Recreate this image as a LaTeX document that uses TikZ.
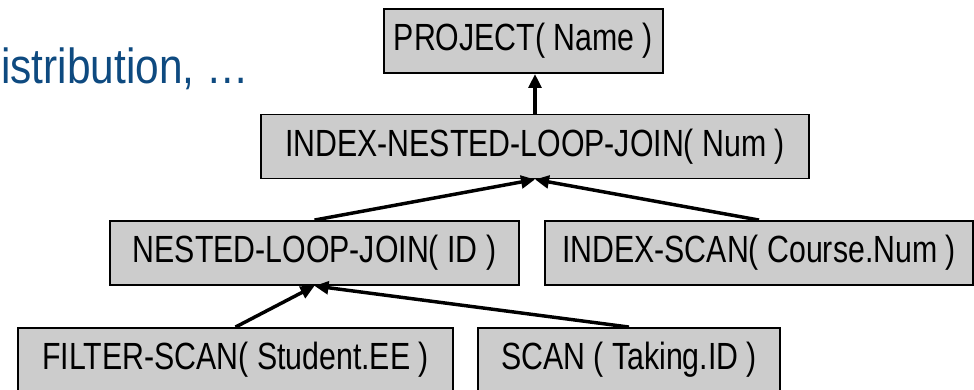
\documentclass[tikz,border=0pt]{standalone}
\usepackage{fontspec}
\setmainfont{Liberation Sans}[FakeStretch=0.86]
\newfontfamily\boxfont{Liberation Sans}[FakeStretch=0.80]
\usetikzlibrary{arrows.meta}
\definecolor{boxgray}{RGB}{204,204,204}
\definecolor{titleblue}{RGB}{14,74,128}
\tikzset{
  opbox/.style={draw=black, line width=1.4pt, fill=boxgray, rectangle,
    minimum height=64*0.75pt, inner sep=0pt,
    font=\boxfont\fontsize{28.4}{32}\selectfont, text=black},
  link/.style={line width=2.6pt, -{Triangle[length=10.5pt,width=9.5pt]}}
}
\begin{document}
\begin{tikzpicture}[x=0.75pt,y=-0.75pt]
\useasboundingbox (0,0) rectangle (974,389);
\clip (0,0) rectangle (974,389);
\node[anchor=base west, inner sep=0pt, text=titleblue,
  font=\fontsize{37}{40}\selectfont] (title) at (1,83) {istribution, …};
\node[opbox, minimum width=279*0.75pt] (proj) at (523.5,41) {PROJECT( Name )};
\node[opbox, minimum width=548*0.75pt] (inlj) at (535,146.5) {INDEX-NESTED-LOOP-JOIN( Num )};
\node[opbox, minimum width=409*0.75pt] (nlj) at (314.5,253) {NESTED-LOOP-JOIN( ID )};
\node[opbox, minimum width=428*0.75pt] (iscan) at (759,253) {INDEX-SCAN( Course.Num )};
\node[opbox, minimum width=435*0.75pt] (fscan) at (235.5,360) {FILTER-SCAN( Student.EE )};
\node[opbox, minimum width=302*0.75pt] (scan) at (629,360) {SCAN ( Taking.ID )};
\draw[link] (inlj.north) -- (inlj.north |- proj.south);
\draw[link] (nlj.north) -- (inlj.south);
\draw[link] (iscan.north) -- (inlj.south);
\draw[link] (fscan.north) -- (nlj.south);
\draw[link] (scan.north) -- (nlj.south);
\end{tikzpicture}
\end{document}
